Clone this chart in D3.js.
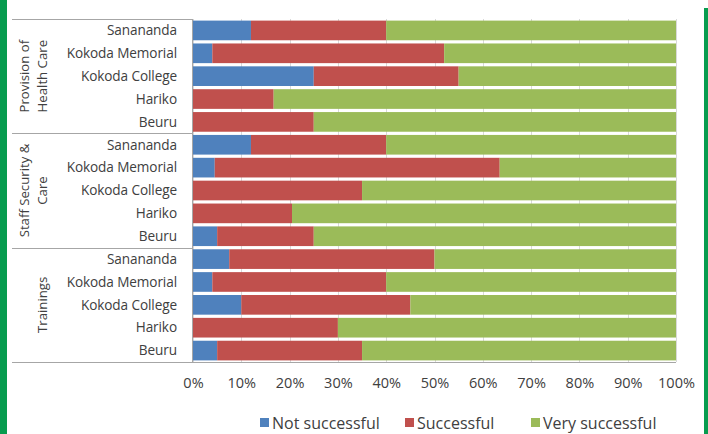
<!DOCTYPE html>
<html>
<head>
<meta charset="utf-8">
<script src="https://cdn.jsdelivr.net/npm/d3@7"></script>
<style>
  html, body { margin: 0; padding: 0; background: #fff; }
  svg { display: block; }
  text { font-family: "Open Sans", "Liberation Sans", sans-serif; fill: #404040; }
</style>
</head>
<body>
<svg id="chart" width="708" height="434"></svg>
<script>
// Survey groups (top to bottom) and the facilities within each
const groups = [["Provision of", "Health Care"], ["Staff Security &", "Care"], ["Trainings"]];
const facilities = ["Sanananda", "Kokoda Memorial", "Kokoda College", "Hariko", "Beuru"];

// Percentage of responses per row (15 rows: 3 groups x 5 facilities)
const notSuccessful  = [12, 4, 25, 0, 0,   12, 4.5, 0, 0, 5,    7.5, 4, 10, 0, 5];
const successful     = [28, 48, 30, 16.7, 25,   28, 59, 35, 20.5, 20,   42.5, 36, 35, 30, 30];
const verySuccessful = [60, 48, 45, 83.3, 75,   60, 36.5, 65, 79.5, 75,   50, 60, 55, 70, 65];

const seriesNames = ["Not successful", "Successful", "Very successful"];
const seriesColors = ["#4f81bd", "#c0504d", "#9bbb59"];
const xTicks = [0, 10, 20, 30, 40, 50, 60, 70, 80, 90, 100];

const svg = d3.select("#chart");

// Frame accents
svg.append("rect").attr("x", 0).attr("y", 0).attr("width", 7).attr("height", 434).attr("fill", "#079c4f");
svg.append("rect").attr("x", 704).attr("y", 8).attr("width", 4).attr("height", 426).attr("fill", "#079c4f");

const plotLeft = 193, plotRight = 676, plotTop = 19, plotBottom = 362;

const rows = [];
groups.forEach((g, gi) => {
  facilities.forEach((f, fi) => {
    const i = gi * facilities.length + fi;
    rows.push({ id: gi + "-" + fi, label: f, group: gi,
      a: notSuccessful[i], b: successful[i], c: verySuccessful[i] });
  });
});

const x = d3.scaleLinear().domain([0, 100]).range([plotLeft, plotRight]);
const y = d3.scaleBand().domain(rows.map(r => r.id)).range([plotTop, plotBottom])
  .paddingInner(0.14).paddingOuter(0.07);

// Vertical gridlines
svg.append("g").selectAll("line").data(xTicks).join("line")
  .attr("x1", d => Math.round(x(d)) + 0.5).attr("x2", d => Math.round(x(d)) + 0.5)
  .attr("y1", plotTop).attr("y2", plotBottom)
  .attr("stroke", "#d9d9d9").attr("stroke-width", 1);

// Stacked bars
const layers = d3.stack().keys(["a", "b", "c"])(rows);
svg.append("g").selectAll("g").data(layers).join("g")
  .attr("fill", (d, i) => seriesColors[i])
  .selectAll("rect").data(d => d).join("rect")
  .attr("x", d => x(d[0]))
  .attr("width", d => x(d[1]) - x(d[0]))
  .attr("y", d => y(d.data.id))
  .attr("height", y.bandwidth());

// Group separators extending into the label area
const sepYs = [0, 1, 2, 3].map(k => plotTop + k * (plotBottom - plotTop) / groups.length);
svg.append("g").selectAll("line").data(sepYs).join("line")
  .attr("x1", 12).attr("x2", plotLeft)
  .attr("y1", d => Math.round(d) + 0.5).attr("y2", d => Math.round(d) + 0.5)
  .attr("stroke", "#a6a6a6").attr("stroke-width", 1);

// Axis lines
svg.append("line").attr("x1", plotLeft - 0.5).attr("x2", plotLeft - 0.5)
  .attr("y1", plotTop).attr("y2", plotBottom).attr("stroke", "#a6a6a6");
svg.append("line").attr("x1", plotLeft).attr("x2", plotRight)
  .attr("y1", plotBottom + 0.5).attr("y2", plotBottom + 0.5).attr("stroke", "#a6a6a6");

// Facility labels
svg.append("g").selectAll("text").data(rows).join("text")
  .attr("x", 177)
  .attr("y", d => y(d.id) + y.bandwidth() / 2)
  .attr("dy", "0.35em")
  .attr("text-anchor", "end")
  .attr("font-size", 13.6)
  .attr("letter-spacing", -0.1)
  .text(d => d.label);

// Group labels (rotated)
const groupBand = (plotBottom - plotTop) / groups.length;
groups.forEach((lines, gi) => {
  const cy = plotTop + groupBand * (gi + 0.5);
  const g = svg.append("g").attr("transform", `translate(0,${cy}) rotate(-90)`);
  const n = lines.length;
  lines.forEach((t, li) => {
    const cx = 42 - (n - 1 - li) * 18;
    g.append("text")
      .attr("x", 0).attr("y", cx)
      .attr("dy", "0.35em")
      .attr("text-anchor", "middle")
      .attr("font-size", 13.2)
      .text(t);
  });
});

// X tick labels
const xAxis = d3.axisBottom(x).tickValues(xTicks).tickFormat(d => d + "%").tickSize(0).tickPadding(0);
const ax = svg.append("g").attr("transform", `translate(0,${plotBottom + 21})`).call(xAxis);
ax.select(".domain").remove();
ax.selectAll("text").attr("font-size", 14.5).attr("fill", "#404040")
  .style("font-family", "'Open Sans', 'Liberation Sans', sans-serif").attr("dy", "0.35em").attr("y", 0);

// Legend
const legendX = [260, 405, 531];
const legend = svg.append("g").selectAll("g").data(seriesNames).join("g")
  .attr("transform", (d, i) => `translate(${legendX[i]},423)`);
legend.append("rect").attr("x", 0).attr("y", -5).attr("width", 9).attr("height", 9)
  .attr("fill", (d, i) => seriesColors[i]);
legend.append("text").attr("x", 12).attr("y", 0).attr("dy", "0.35em")
  .attr("font-size", 16).text(d => d);
</script>
</body>
</html>
